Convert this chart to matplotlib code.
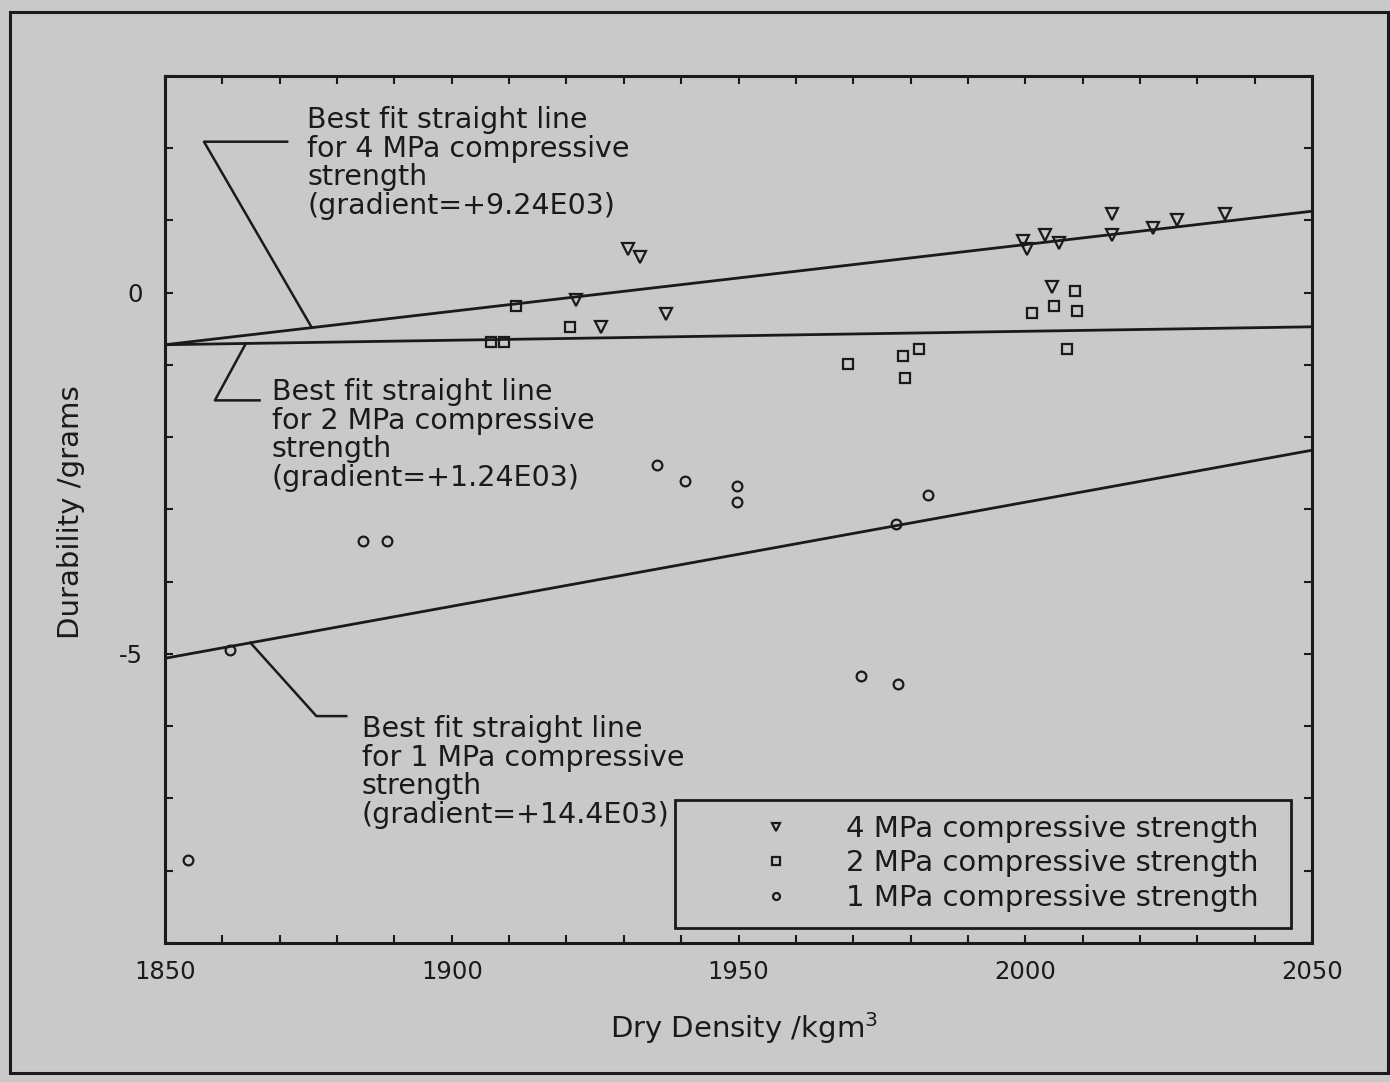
import matplotlib
matplotlib.use("Agg")
import matplotlib.pyplot as plt
from matplotlib.patches import Rectangle
from matplotlib.lines import Line2D
import numpy as np

# ---------------- data ----------------
x_4mpa = [1930.7, 1932.8, 1921.7, 1926.0, 1937.4, 1999.6, 2000.3, 2003.4, 2005.9,
          2015.1, 2015.1, 2022.3, 2026.5, 2034.8, 2004.7]
y_4mpa = [0.61, 0.50, -0.10, -0.48, -0.29, 0.72, 0.60, 0.80, 0.69,
          1.09, 0.80, 0.90, 1.00, 1.09, 0.08]

x_2mpa = [1911.2, 1920.6, 1906.8, 1909.1, 2001.2, 2005.0, 2008.7, 2009.0, 2007.3,
          1969.1, 1978.7, 1981.5, 1979.0]
y_2mpa = [-0.18, -0.48, -0.68, -0.68, -0.28, -0.18, 0.03, -0.26, -0.78,
          -0.98, -0.87, -0.78, -1.18]

x_1mpa = [1983.0, 1977.5, 1971.4, 1977.8, 1935.8, 1940.7, 1949.7, 1949.7,
          1884.5, 1888.7, 1861.3, 1854.0]
y_1mpa = [-2.80, -3.20, -5.30, -5.41, -2.39, -2.60, -2.67, -2.89,
          -3.43, -3.43, -4.95, -7.85]

series_labels = ["4 MPa compressive strength", "2 MPa compressive strength",
                 "1 MPa compressive strength"]
fit_gradients = [9.24e-3, 1.24e-3, 14.4e-3]
fit_y_at_1850 = [-0.72, -0.72, -5.06]
fit_texts = [
    "Best fit straight line\nfor 4 MPa compressive\nstrength\n(gradient=+9.24E03)",
    "Best fit straight line\nfor 2 MPa compressive\nstrength\n(gradient=+1.24E03)",
    "Best fit straight line\nfor 1 MPa compressive\nstrength\n(gradient=+14.4E03)",
]
x_min, x_max = 1850, 2050
y_min, y_max = -9, 3
x_tick_labels = ["1850", "1900", "1950", "2000", "2050"]
y_tick_labels = ["-5", "0"]

# ---------------- style ----------------
BG = "#c9c9c9"
INK = "#1a1a1a"
FS_TICK = 17.5
FS = 21
FS_NOTE = 20.5
plt.rcParams["font.family"] = ["DejaVu Sans"]

fig = plt.figure(figsize=(13.9, 10.82), dpi=100, facecolor=BG)
ax = fig.add_axes([0.1187, 0.1285, 0.8252, 0.8013])
ax.set_facecolor(BG)

# figure outer frame
fig.patches.append(Rectangle((0.0075, 0.008), 0.991, 0.981, transform=fig.transFigure,
                             fill=False, edgecolor=INK, linewidth=2.2))

def fit(i, x):
    return fit_y_at_1850[i] + fit_gradients[i] * (np.asarray(x) - 1850)

# fit lines
xx = np.array([x_min, x_max])
for i in range(3):
    ax.plot(xx, fit(i, xx), color=INK, lw=2.0, solid_capstyle="butt", zorder=2)

mk = dict(linestyle="none", markerfacecolor="none", markeredgecolor=INK,
          markeredgewidth=1.6, zorder=3)
ax.plot(x_4mpa, y_4mpa, marker="v", markersize=9, **mk)
ax.plot(x_2mpa, y_2mpa, marker="s", markersize=7.5, **mk)
ax.plot(x_1mpa, y_1mpa, marker="o", markersize=7, **mk)

# leader lines (anchor on fit line -> elbow -> end of horizontal)
leaders = [
    (1875.6, (1856.8, 2.09), 1871.3),
    (1864.1, (1858.7, -1.49), 1866.5),
    (1864.9, (1876.4, -5.86), 1881.6),
]
for i, (xa, (xe, ye), xh) in enumerate(leaders):
    ax.plot([xa, xe, xh], [fit(i, xa), ye, ye], color=INK, lw=1.8, zorder=2)

text_pos = [(1874.8, 2.58), (1868.6, -1.18), (1884.3, -5.85)]
for (tx, ty), t in zip(text_pos, fit_texts):
    ax.text(tx, ty, t, fontsize=FS_NOTE, color=INK, ha="left", va="top",
            linespacing=1.025, zorder=4)

# axes
ax.set_xlim(x_min, x_max)
ax.set_ylim(y_min, y_max)
ax.set_xticks([int(s) for s in x_tick_labels])
ax.set_xticklabels(x_tick_labels)
ax.set_xticks(np.arange(x_min, x_max + 1, 10), minor=True)
ax.set_yticks([float(s) for s in y_tick_labels])
ax.set_yticklabels(y_tick_labels)
ax.set_yticks(np.arange(y_min, y_max + 1, 1), minor=True)
for which in ("major", "minor"):
    ax.tick_params(which=which, direction="in", length=6, width=1.5, color=INK,
                   top=True, right=True)
ax.tick_params(axis="x", which="major", pad=12, labelsize=FS_TICK, labelcolor=INK)
ax.tick_params(axis="y", which="major", pad=16, labelsize=FS_TICK, labelcolor=INK)
for s in ax.spines.values():
    s.set_linewidth(2.2)
    s.set_color(INK)

ax.set_xlabel("Dry Density /kgm$^\\mathregular{3}$", fontsize=FS, color=INK)
ax.set_ylabel("Durability /grams", fontsize=FS, color=INK)
ax.xaxis.set_label_coords(0.505, -0.078)
ax.yaxis.set_label_coords(-0.070, 0.497)

# legend
handles = [Line2D([], [], marker=m, markersize=s, **mk) for m, s in
           (("v", 6), ("s", 5.5), ("o", 5))]
leg = ax.legend(handles, series_labels, loc="upper left",
                bbox_to_anchor=(0.520, 0.1475), frameon=False, fontsize=FS,
                handlelength=1.0, handletextpad=1.9, labelspacing=0.22,
                borderpad=0, borderaxespad=0)
for t in leg.get_texts():
    t.set_color(INK)
ax.add_patch(Rectangle((0.4446, 0.0173), 0.5371, 0.1476, transform=ax.transAxes,
                       fill=False, edgecolor=INK, linewidth=2.0, zorder=5))

fig.savefig("out.png", dpi=100, facecolor=BG)
